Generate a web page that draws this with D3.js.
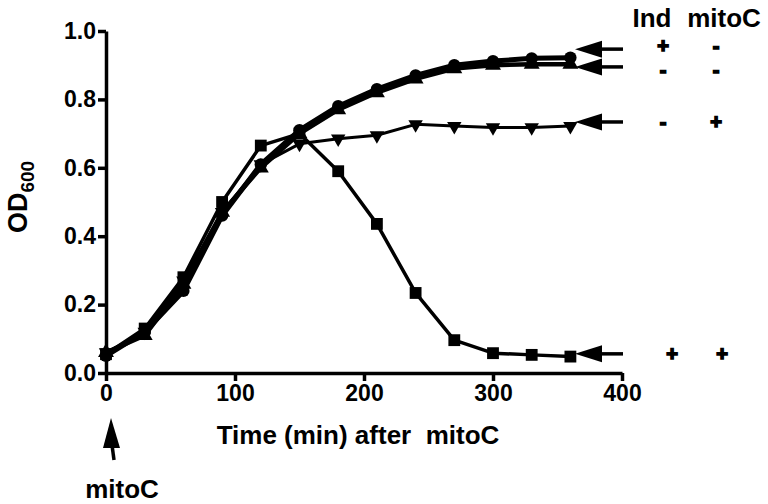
<!DOCTYPE html>
<html>
<head>
<meta charset="utf-8">
<script src="https://cdn.jsdelivr.net/npm/d3@7"></script>
<style>
  body { margin: 0; background: #fff; }
  svg text { font-family: "Liberation Sans", Arial, sans-serif; font-weight: bold; fill: #000; }
</style>
</head>
<body>
<svg id="chart" width="768" height="504"></svg>
<script>
// Time points (min after mitoC)
const times = [0, 30, 60, 90, 120, 150, 180, 210, 240, 270, 300, 330, 360];

// OD600 values
const indPlusMitoMinus  = [0.05, 0.12, 0.24, 0.46, 0.61, 0.71, 0.78, 0.83, 0.87, 0.90, 0.912, 0.92, 0.922];
const indMinusMitoMinus = [0.06, 0.11, 0.26, 0.47, 0.60, 0.70, 0.77, 0.82, 0.86, 0.89, 0.90, 0.903, 0.903];
const indMinusMitoPlus  = [0.06, 0.12, 0.27, 0.47, 0.61, 0.67, 0.685, 0.695, 0.727, 0.722, 0.718, 0.718, 0.722];
const indPlusMitoPlus   = [0.055, 0.13, 0.28, 0.50, 0.665, 0.70, 0.59, 0.436, 0.234, 0.096, 0.058, 0.053, 0.048];

// Legend rows: arrow height (OD units) and signs
const legendY   = [0.947, 0.895, 0.734, 0.056];
const legendInd = ["+", "-", "-", "+"];
const legendMito = ["-", "-", "+", "+"];

const xTicks = [0, 100, 200, 300, 400];
const yTicks = [0, 0.2, 0.4, 0.6, 0.8, 1.0];

const svg = d3.select("#chart");

const x = d3.scaleLinear().domain([0, 400]).range([106, 622]);
const y = d3.scaleLinear().domain([0, 1]).range([373, 31]);

// Axes
const yAxis = svg.append("g")
    .attr("transform", "translate(" + x(0) + ",0)")
    .call(d3.axisLeft(y).tickValues(yTicks).tickFormat(d3.format(".1f")).tickSize(8).tickSizeOuter(0).tickPadding(2));

const xAxis = svg.append("g")
    .attr("transform", "translate(0," + y(0) + ")")
    .call(d3.axisBottom(x).tickValues(xTicks).tickSize(8).tickSizeOuter(0).tickPadding(4));

[yAxis, xAxis].forEach(function(g) {
    g.select(".domain").attr("stroke-width", 3.5).attr("stroke", "#000");
    g.selectAll(".tick line").attr("stroke-width", 3.5).attr("stroke", "#000");
    g.selectAll(".tick text").style("font-size", "23px").attr("fill", "#000");
});

// Series
const series = [
    { values: indPlusMitoPlus,   symbol: d3.symbolSquare,   size: 140, rotate: 0,   width: 3.5 },
    { values: indMinusMitoPlus,  symbol: d3.symbolTriangle, size: 90,  rotate: 180, width: 3 },
    { values: indMinusMitoMinus, symbol: d3.symbolTriangle, size: 110, rotate: 0,   width: 4.5 },
    { values: indPlusMitoMinus,  symbol: d3.symbolCircle,   size: 120, rotate: 0,   width: 5 }
];

const line = d3.line()
    .x(function(d) { return x(d[0]); })
    .y(function(d) { return y(d[1]); });

series.forEach(function(s) {
    const pts = times.map(function(t, i) { return [t, s.values[i]]; });
    svg.append("path")
        .datum(pts)
        .attr("fill", "none")
        .attr("stroke", "#000")
        .attr("stroke-width", s.width)
        .attr("stroke-linejoin", "round")
        .attr("d", line);

    svg.selectAll(null)
        .data(pts)
        .enter().append("path")
        .attr("d", d3.symbol().type(s.symbol).size(s.size))
        .attr("transform", function(d) {
            return "translate(" + x(d[0]) + "," + y(d[1]) + ") rotate(" + s.rotate + ")";
        })
        .attr("fill", "#000");
});

// Legend arrows and signs
const signShift = [-3, 3, 0, 0];
legendY.forEach(function(v, i) {
    const yy = y(v);
    svg.append("path")
        .attr("d", "M575," + yy + "L602," + (yy - 8.5) + "L602," + (yy + 8.5) + "Z")
        .attr("fill", "#000");
    svg.append("line")
        .attr("x1", 600).attr("x2", 623)
        .attr("y1", yy).attr("y2", yy)
        .attr("stroke", "#000").attr("stroke-width", 3.5);

    const ty = yy + 7 + signShift[i];
    [[663 + (i === 3 ? 9 : 0), legendInd[i]], [716 + (i === 3 ? 6 : 0), legendMito[i]]].forEach(function(p) {
        svg.append("text")
            .attr("x", p[0]).attr("y", ty)
            .attr("text-anchor", "middle")
            .style("font-size", "20px")
            .attr("stroke", "#000")
            .attr("stroke-width", 1.6)
            .text(p[1]);
    });
});

svg.append("text")
    .attr("x", 652).attr("y", 27)
    .attr("text-anchor", "middle")
    .style("font-size", "26px")
    .text("Ind");

svg.append("text")
    .attr("x", 724).attr("y", 27)
    .attr("text-anchor", "middle")
    .style("font-size", "26px")
    .text("mitoC");

// Axis titles
svg.append("text")
    .attr("x", 358).attr("y", 444)
    .attr("text-anchor", "middle")
    .style("font-size", "26px")
    .attr("xml:space", "preserve")
    .text("Time (min) after  mitoC");

const yTitle = svg.append("text")
    .attr("transform", "translate(27,197) rotate(-90)")
    .attr("text-anchor", "middle")
    .style("font-size", "27px");
yTitle.append("tspan").text("OD");
yTitle.append("tspan").attr("dy", 7).style("font-size", "19px").text("600");

// mitoC addition arrow at t = 0
svg.append("path")
    .attr("d", "M111,418L103,448L120,448Z")
    .attr("fill", "#000");
svg.append("line")
    .attr("x1", 112).attr("y1", 445)
    .attr("x2", 114).attr("y2", 460)
    .attr("stroke", "#000").attr("stroke-width", 3.5);

svg.append("text")
    .attr("x", 122).attr("y", 498)
    .attr("text-anchor", "middle")
    .style("font-size", "26px")
    .text("mitoC");
</script>
</body>
</html>
